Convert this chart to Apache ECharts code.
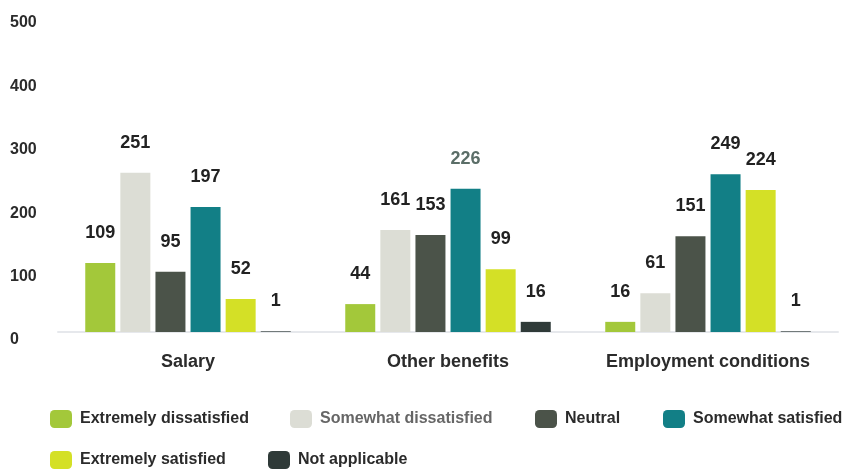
<!DOCTYPE html>
<html>
<head>
<meta charset="utf-8">
<script src="https://cdn.jsdelivr.net/npm/echarts@6/dist/echarts.min.js"></script>
<style>
  html, body { margin: 0; padding: 0; background: #fff; }
  #main { width: 849px; height: 470px; }
</style>
</head>
<body>
<div id="main"></div>
<script>
// data
var categories = ['Salary', 'Other benefits', 'Employment conditions'];
var levels = ['Extremely dissatisfied', 'Somewhat dissatisfied', 'Neutral', 'Somewhat satisfied', 'Extremely satisfied', 'Not applicable'];
var extremelyDissatisfied = [109, 44, 16];
var somewhatDissatisfied = [251, 161, 61];
var neutral = [95, 153, 151];
var somewhatSatisfied = [197, 226, 249];
var extremelySatisfied = [52, 99, 224];
var notApplicable = [1, 16, 1];
var yTicks = [0, 100, 200, 300, 400, 500];

var colors = ['#a3c83a', '#dcddd5', '#4b5349', '#127f86', '#d4e026', '#2f3a38'];
var values = [extremelyDissatisfied, somewhatDissatisfied, neutral, somewhatSatisfied, extremelySatisfied, notApplicable];
var font = 'Liberation Sans, Arial, sans-serif';

var chart = echarts.init(document.getElementById('main'));

// legend items are placed one by one, like the original two-row layout
var legendPos = [[45, 405], [285, 405], [530, 405], [658, 405], [45, 446], [263, 446]];
var legends = levels.map(function (name, i) {
    return {
        data: [name],
        left: legendPos[i][0],
        top: legendPos[i][1],
        itemWidth: 22,
        itemHeight: 18,
        icon: 'roundRect',
        selectedMode: false,
        textStyle: { fontFamily: font, fontSize: 16, fontWeight: 'bold', color: i === 1 ? '#666' : '#2b2b2b', padding: [0, 0, 0, 3] }
    };
});

var series = levels.map(function (name, i) {
    return {
        name: name,
        type: 'bar',
        barWidth: 30,
        barGap: '17%',
        itemStyle: { color: colors[i] },
        label: {
            show: true,
            position: 'top',
            distance: 21,
            fontFamily: font,
            fontSize: 18,
            fontWeight: 'bold',
            color: '#222'
        },
        data: values[i].map(function (v, j) {
            // the 226 label is printed in a grey-green tone
            if (i === 3 && j === 1) return { value: v, label: { color: '#5b6e68' } };
            return v;
        })
    };
});

chart.setOption({
    backgroundColor: '#fff',
    animation: false,
    legend: legends,
    grid: { left: 58, right: 11, top: 15, bottom: 138 },
    xAxis: {
        type: 'category',
        data: categories,
        axisTick: { show: false },
        axisLine: { lineStyle: { color: '#e6e8ec', width: 2 } },
        axisLabel: { interval: 0, margin: 21, fontFamily: font, fontSize: 18, fontWeight: 'bold', color: '#2b2b2b' }
    },
    yAxis: {
        type: 'value',
        min: yTicks[0],
        max: yTicks[yTicks.length - 1],
        interval: 100,
        splitLine: { show: false },
        axisLabel: { align: 'left', verticalAlign: 'top', margin: 48, fontFamily: font, fontSize: 16, fontWeight: 'bold', color: '#2b2b2b' }
    },
    series: series
});
</script>
</body>
</html>
